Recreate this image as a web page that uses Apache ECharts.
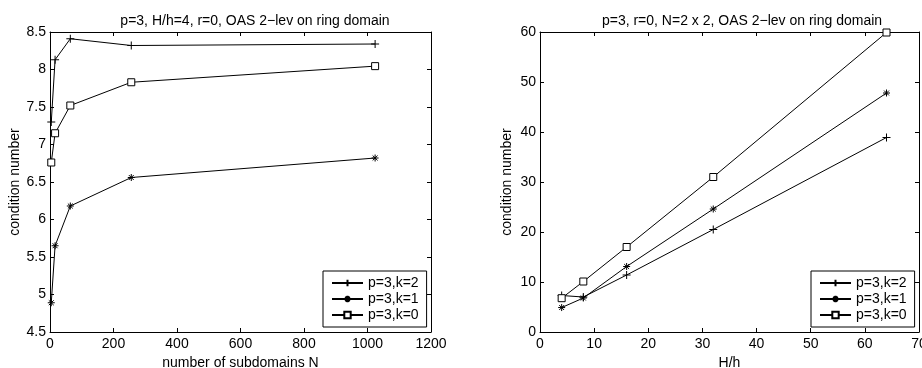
<!DOCTYPE html>
<html><head><meta charset="utf-8">
<script src="https://cdn.jsdelivr.net/npm/echarts@6/dist/echarts.min.js"></script>
<style>html,body{margin:0;padding:0;background:#fff}#c{width:922px;height:368px}</style>
</head><body><div id="c"></div>
<script>
const leftTitle = 'p=3, H/h=4, r=0, OAS 2\u2212lev on ring domain';
const rightTitle = 'p=3, r=0, N=2 x 2, OAS 2\u2212lev on ring domain';
const seriesNames = ['p=3,k=2', 'p=3,k=1', 'p=3,k=0'];
const subdomainsN = [4, 16, 64, 256, 1024];
const leftK2 = [7.30, 8.13, 8.41, 8.32, 8.34];
const leftK1 = [4.89, 5.65, 6.18, 6.56, 6.82];
const leftK0 = [6.76, 7.15, 7.52, 7.83, 8.045];
const ratioHh = [4, 8, 16, 32, 64];
const rightK2 = [7.3, 7.0, 11.4, 20.5, 38.9];
const rightK1 = [4.89, 6.8, 13.1, 24.6, 47.8];
const rightK0 = [6.76, 10.1, 17.0, 31.0, 59.9];

const FONT = 'Liberation Sans, Arial, sans-serif';
const FS = 14;
const plusSym = 'path://M5,0L5,10M0,5L10,5';
const starSym = 'path://M5,0L5,10M0,5L10,5M1.5,1.5L8.5,8.5M1.5,8.5L8.5,1.5';
const symbols = [plusSym, starSym, 'rect'];
const symSizes = [8, 7, 7];

function pairs(xs, ys){ return xs.map((x,i)=>[x, ys[i]]); }

function mkSeries(name, idx, data, axisIdx){
  return {
    name, type:'line', data, xAxisIndex: axisIdx*2, yAxisIndex: axisIdx*2,
    symbol: symbols[idx], symbolSize: symSizes[idx], showAllSymbol: true,
    lineStyle:{color:'#000', width:1},
    itemStyle:{color: idx===2 ? '#fff' : 'transparent', borderColor:'#000', borderWidth:1},
    emphasis:{disabled:true}, animation:false, z: 3
  };
}

function mkX(grid, min, max, interval, name, pos, nameGap){
  const main = pos==='bottom';
  return {
    type:'value', gridIndex:grid, min, max, interval, position:pos,
    name: main ? name : '', nameLocation:'middle', nameGap,
    nameTextStyle:{color:'#000', fontSize:FS, fontFamily:FONT},
    axisLine:{show:true, onZero:false, lineStyle:{color:'#000', width:1}},
    axisTick:{show:true, inside:true, length:4, lineStyle:{color:'#000'}},
    axisLabel:{show:main, color:'#000', fontSize:FS, fontFamily:FONT, margin:5, showMaxLabel:true, showMinLabel:true,
               formatter: v => String(v)},
    splitLine:{show:false}
  };
}
function mkY(grid, min, max, interval, name, pos, nameGap){
  const main = pos==='left';
  return {
    type:'value', gridIndex:grid, min, max, interval, position:pos,
    name: main ? name : '', nameLocation:'middle', nameGap,
    nameTextStyle:{color:'#000', fontSize:FS, fontFamily:FONT},
    axisLine:{show:true, onZero:false, lineStyle:{color:'#000', width:1}},
    axisTick:{show:true, inside:true, length:4, lineStyle:{color:'#000'}},
    axisLabel:{show:main, color:'#000', fontSize:FS, fontFamily:FONT, margin:4, showMaxLabel:true, showMinLabel:true,
               formatter: v => String(v)},
    splitLine:{show:false}
  };
}
function mkLegend(left, top){
  return {data:seriesNames, orient:'vertical', left, top, itemWidth:31, itemHeight:8, itemGap:2,
     padding:[5,8,5,8], borderColor:'#000', borderWidth:1, backgroundColor:'#fff',
     textStyle:{color:'#000', fontSize:FS, lineHeight:14, fontFamily:FONT}, selectedMode:false, inactiveColor:'#000'};
}

const chart = echarts.init(document.getElementById('c'), null, {renderer:'canvas'});
chart.setOption({
  backgroundColor:'#fff',
  animation:false,
  title:[
    {text:leftTitle, left:250, top:9, textAlign:'center', textStyle:{color:'#000', fontSize:14, fontWeight:'normal', fontFamily:FONT}},
    {text:rightTitle, left:737, top:9, textAlign:'center', textStyle:{color:'#000', fontSize:14, fontWeight:'normal', fontFamily:FONT}}
  ],
  grid:[
    {left:50, right:491, top:32, bottom:36, outerBoundsMode:'none', containLabel:false},
    {left:540, right:3, top:32, bottom:36, outerBoundsMode:'none', containLabel:false}
  ],
  xAxis:[
    mkX(0, 0, 1200, 200, 'number of subdomains N', 'bottom', 22),
    mkX(0, 0, 1200, 200, '', 'top', 20),
    mkX(1, 0, 70, 10, 'H/h', 'bottom', 22),
    mkX(1, 0, 70, 10, '', 'top', 20)
  ],
  yAxis:[
    mkY(0, 4.5, 8.5, 0.5, 'condition number', 'left', 27),
    mkY(0, 4.5, 8.5, 0.5, '', 'right', 30),
    mkY(1, 0, 60, 10, 'condition number', 'left', 26),
    mkY(1, 0, 60, 10, '', 'right', 30)
  ],
  legend:[ mkLegend(323, 271), mkLegend(811, 271) ],
  series:[
    mkSeries(seriesNames[0], 0, pairs(subdomainsN, leftK2), 0),
    mkSeries(seriesNames[1], 1, pairs(subdomainsN, leftK1), 0),
    mkSeries(seriesNames[2], 2, pairs(subdomainsN, leftK0), 0),
    mkSeries(seriesNames[0], 0, pairs(ratioHh, rightK2), 1),
    mkSeries(seriesNames[1], 1, pairs(ratioHh, rightK1), 1),
    mkSeries(seriesNames[2], 2, pairs(ratioHh, rightK0), 1)
  ]
});
</script></body></html>
